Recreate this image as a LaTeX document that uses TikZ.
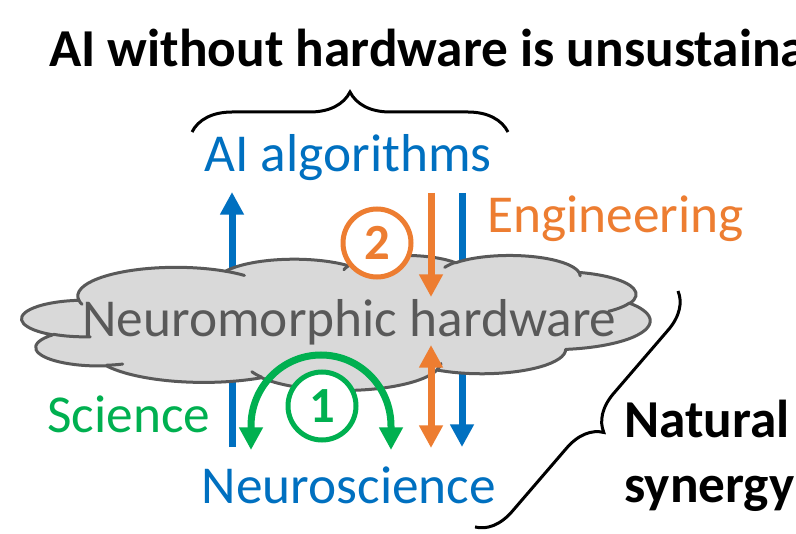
\documentclass[tikz,border=0pt]{standalone}
\usepackage{fontspec}
\setmainfont{Carlito}
\usetikzlibrary{arrows.meta,decorations.pathreplacing}
\definecolor{cblue}{HTML}{0070C0}
\definecolor{corange}{HTML}{ED7D31}
\definecolor{cgreen}{HTML}{00B050}
\definecolor{cgraytext}{HTML}{595959}
\definecolor{cfill}{HTML}{D9D9D9}

\def\cloudpath{}
\newcommand\cldaddarc[4]{%
  \pgfmathsetmacro\cldtS{atan2((#1)*sin(#3),(#2)*cos(#3))}%
  \pgfmathsetmacro\cldtE{atan2((#1)*sin((#3)+(#4)),(#2)*cos((#3)+(#4)))}%
  \pgfmathsetmacro\cldtE{\cldtE+360*(((#4)>0)*((\cldtE)<(\cldtS))-((#4)<0)*((\cldtE)>(\cldtS)))}%
  \xdef\cloudpath{\cloudpath arc[start angle=\cldtS, end angle=\cldtE, x radius=#1, y radius=#2]}%
}
\newcommand\cldhook[6]{%
  \pgfmathsetmacro\cldtS{atan2((#3)*sin(#5),(#4)*cos(#5))}%
  \pgfmathsetmacro\cldtE{atan2((#3)*sin((#5)+(#6)),(#4)*cos((#5)+(#6)))}%
  \pgfmathsetmacro\cldtE{\cldtE+360*(((#6)>0)*((\cldtE)<(\cldtS))-((#6)<0)*((\cldtE)>(\cldtS)))}%
  \draw[cloudline] (#1,#2) arc[start angle=\cldtS, end angle=\cldtE, x radius=#3, y radius=#4];%
}

\cldaddarc{6.753}{9.190}{-190.4875}{123.7805}
\cldaddarc{5.333}{7.267}{-144.1024}{89.9452}
\cldaddarc{4.365}{5.945}{-145.8079}{99.7230}
\cldaddarc{4.857}{6.595}{-130.9861}{117.2417}
\cldaddarc{5.333}{7.273}{-78.7089}{109.0269}
\cldaddarc{6.775}{9.220}{-46.2673}{130.2690}
\cldaddarc{5.785}{7.867}{0.6250}{114.0333}
\cldaddarc{6.752}{9.215}{22.4516}{115.1726}
\cldaddarc{7.720}{10.543}{66.2426}{75.7110}
\cldaddarc{4.360}{5.918}{-274.9421}{146.7356}
\cldaddarc{4.345}{5.945}{-246.8285}{152.5189}

\tikzset{
  cloudline/.style={draw=cgraytext, line width=2.25pt, line join=round, line cap=round},
  txt/.style={inner sep=0pt, font=\fontsize{40}{46}\selectfont},
  boldtxt/.style={inner sep=0pt, font=\fontsize{40}{46}\selectfont\bfseries},
  shaft/.style={line width=5.25pt},
  tipT/.tip={Triangle[length=17pt,width=17pt]},
  numcirc/.style={circle, draw, line width=3.75pt, fill=white, inner sep=0pt, minimum size=51pt, font=\fontsize{38}{44}\selectfont\bfseries},
  bracestyle/.style={draw=black, line width=2.25pt, decorate},
}

\begin{document}
\begin{tikzpicture}[x=0.75pt, y=-0.75pt]
\useasboundingbox (0,0) rectangle (796,534);
\clip (0,0) rectangle (796,534);
\fill[white] (0,0) rectangle (796,534);

% blue arrows behind the cloud
\coordinate (bl0) at (232,447); \coordinate (bl1) at (232,192);
\coordinate (br0) at (462,193); \coordinate (br1) at (462,447);
\draw[shaft, cblue, -tipT] (bl0) -- (bl1);
\draw[shaft, cblue, -tipT] (br0) -- (br1);

% cloud
\begin{scope}[shift={(22,255)}, xscale=14.537, yscale=3.125]
  \path[cloudline, fill=cfill] (3.900,14.370) \cloudpath -- cycle;
  \cldhook{4.693}{26.177}{4.345}{5.945}{86.7420}{26.4295}
  \cldhook{6.928}{34.899}{4.360}{5.918}{73.6105}{11.4475}
  \cldhook{16.478}{39.090}{6.752}{9.215}{137.6242}{14.0811}
  \cldhook{28.827}{34.751}{6.752}{9.215}{6.4533}{15.9984}
  \cldhook{41.798}{15.354}{5.333}{7.273}{30.3180}{27.7515}
  \cldhook{38.324}{5.426}{4.857}{6.595}{-13.7443}{14.8589}
  \cldhook{29.078}{3.952}{4.857}{6.595}{-149.1815}{18.1954}
  \cldhook{22.141}{4.720}{4.365}{5.945}{-163.4943}{17.6864}
  \cldhook{14.000}{5.192}{6.753}{9.190}{-66.7070}{12.3194}
  \cldhook{4.127}{15.789}{6.753}{9.190}{157.6544}{11.8582}
\end{scope}

\node[txt, text=cgraytext, anchor=base] (hw) at (349.5,337) {Neuromorphic hardware};

% texts
\node[boldtxt, anchor=base west] (title) at (49,67) {AI without hardware is unsustaina};
\node[txt, text=cblue, anchor=base] (alg) at (348,172) {AI algorithms};
\node[txt, text=corange, anchor=base west] (eng) at (487,233) {Engineering};
\node[txt, text=cgreen, anchor=base west] (sci) at (47,432) {Science};
\node[txt, text=cblue, anchor=base] (neuro) at (349,503) {Neuroscience};
\node[boldtxt, anchor=base west] (nat) at (624,437) {Natural};
\node[boldtxt, anchor=base west] (syn) at (624,502) {synergy};

% orange arrows
\coordinate (o0) at (431,193); \coordinate (o1) at (431,297);
\coordinate (od0) at (431,345); \coordinate (od1) at (431,448);
\draw[shaft, corange, -tipT] (o0) -- (o1);
\draw[shaft, corange, tipT-tipT] (od0) -- (od1);

% green arc
\coordinate (g0) at (251,450); \coordinate (g1) at (391,450);
\draw[shaft, cgreen, tipT-tipT] (g0) -- (251,426) arc[start angle=180, end angle=360, x radius=70, y radius=71] -- (g1);

% numbered circles
\node[numcirc, draw=cgreen, text=cgreen] (one) at (322,406) {1};
\node[numcirc, draw=corange, text=corange] (two) at (377,243) {2};

% braces
\draw[bracestyle, decoration={brace, amplitude=30pt}] (192,132) -- (508,132);
\draw[bracestyle, decoration={brace, amplitude=27pt}] (678,291) -- (475,527);
\end{tikzpicture}
\end{document}
